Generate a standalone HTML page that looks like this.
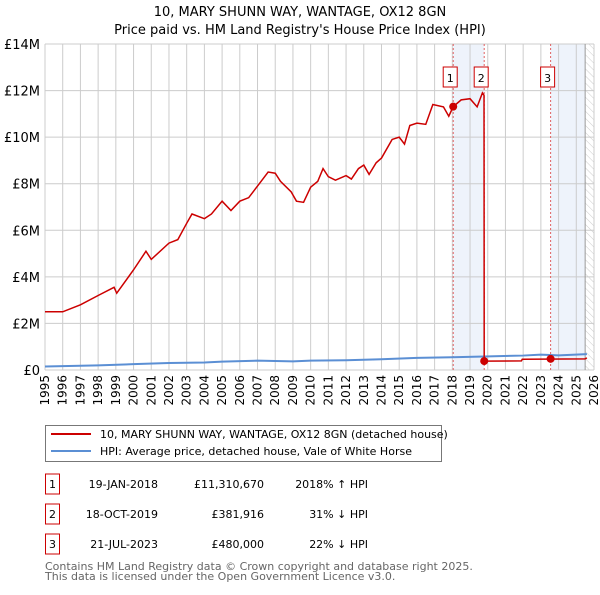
<!DOCTYPE html>
<html><head><meta charset="utf-8"><style>
body{margin:0;background:#fff;font-family:"Liberation Sans","DejaVu Sans",sans-serif;}
svg text{font-family:"DejaVu Sans","Liberation Sans",sans-serif;}
</style></head><body>
<svg id="c" width="600" height="590" xmlns="http://www.w3.org/2000/svg">
<defs><pattern id="hatch" width="5" height="5" patternUnits="userSpaceOnUse" patternTransform="rotate(-45)"><line x1="0" y1="0" x2="0" y2="5" stroke="#ccc" stroke-width="1"/></pattern></defs>
<text x="300" y="16" text-anchor="middle" font-size="13" fill="#000">10, MARY SHUNN WAY, WANTAGE, OX12 8GN</text>
<text x="300" y="34" text-anchor="middle" font-size="13" fill="#000">Price paid vs. HM Land Registry's House Price Index (HPI)</text>
<g id="plot"></g>
<g>
<rect x="45.5" y="425.5" width="396" height="36" fill="#fff" stroke="#777"/>
<line x1="51" y1="434" x2="91" y2="434" stroke="#cc0000" stroke-width="2"/>
<text x="100" y="438" font-size="11">10, MARY SHUNN WAY, WANTAGE, OX12 8GN (detached house)</text>
<line x1="51" y1="451" x2="91" y2="451" stroke="#5b8fd4" stroke-width="2"/>
<text x="100" y="455" font-size="11">HPI: Average price, detached house, Vale of White Horse</text>
</g>
<g id="table" font-size="11"></g>
<text x="45" y="570" font-size="11" fill="#666">Contains HM Land Registry data © Crown copyright and database right 2025.</text>
<text x="45" y="580" font-size="11" fill="#666">This data is licensed under the Open Government Licence v3.0.</text>
</svg>
<script>
const yTicks=[0,2,4,6,8,10,12,14];
const yTickLabels=["£0","£2M","£4M","£6M","£8M","£10M","£12M","£14M"];
const xYears=[1995,1996,1997,1998,1999,2000,2001,2002,2003,2004,2005,2006,2007,2008,2009,2010,2011,2012,2013,2014,2015,2016,2017,2018,2019,2020,2021,2022,2023,2024,2025,2026];
const priceT=[1995,1996,1997,1998,1998.9,1999.05,2000,2000.7,2001,2002,2002.5,2003,2003.3,2004,2004.4,2005,2005.5,2006,2006.5,2007,2007.6,2008,2008.3,2008.9,2009.2,2009.6,2010,2010.4,2010.7,2011,2011.4,2012,2012.3,2012.7,2013,2013.3,2013.7,2014,2014.6,2015,2015.3,2015.6,2016,2016.5,2016.9,2017.5,2017.8,2018.05,2018.5,2019,2019.4,2019.7,2019.79,2019.8,2021.9,2021.95,2025.5,2025.6];
const priceV=[2.5,2.5,2.8,3.2,3.55,3.3,4.3,5.1,4.75,5.45,5.6,6.3,6.7,6.5,6.7,7.25,6.85,7.25,7.4,7.9,8.5,8.45,8.1,7.65,7.25,7.2,7.85,8.1,8.65,8.3,8.15,8.35,8.2,8.65,8.8,8.4,8.9,9.1,9.9,10.0,9.7,10.5,10.6,10.55,11.4,11.3,10.9,11.31,11.6,11.65,11.3,11.9,11.8,0.382,0.39,0.46,0.48,0.52];
const hpiT=[1995,1998,2000,2002,2004,2005,2007,2009,2010,2012,2014,2016,2018,2019.8,2022,2023,2024,2025.6];
const hpiV=[0.15,0.2,0.25,0.3,0.32,0.36,0.4,0.37,0.4,0.42,0.46,0.52,0.55,0.58,0.62,0.66,0.63,0.68];
const saleT=[2018.05,2019.8,2023.55];
const saleV=[11.31,0.382,0.48];
const saleLabels=["1","2","3"];
const rowDates=["19-JAN-2018","18-OCT-2019","21-JUL-2023"];
const rowPrices=["£11,310,670","£381,916","£480,000"];
const rowHpi=["2018% ↑ HPI","31% ↓ HPI","22% ↓ HPI"];
const NS="http://www.w3.org/2000/svg";
const X0=45,X1=594,Y0=370,Y1=44;
const xs=t=>X0+(t-1995)/(2026-1995)*(X1-X0);
const ys=v=>Y0-v/14*(Y0-Y1);
const plot=document.getElementById('plot');
function mk(tag,attrs,parent){const e=document.createElementNS(NS,tag);for(const k in attrs)e.setAttribute(k,attrs[k]);(parent||plot).appendChild(e);return e;}
let s1=mk('rect',{x:xs(2018.05),y:Y1,width:xs(2019.8)-xs(2018.05),height:Y0-Y1,fill:'#eef3fb'});


let s2=mk('rect',{x:xs(2023.55),y:Y1,width:xs(2025.5)-xs(2023.55),height:Y0-Y1,fill:'#eef3fb'});


let hz=mk('rect',{x:xs(2025.5),y:Y1,width:X1-xs(2025.5),height:Y0-Y1,fill:'url(#hatch)'});


xYears.forEach((yr,i)=>{
 let l=mk('line',{x1:xs(yr),x2:xs(yr),y1:Y1,y2:Y0,stroke:'#ccc','stroke-width':1});
 
 
 let t=mk('text',{x:0,y:0,'font-size':12,'text-anchor':'end',transform:`translate(${xs(yr)+4},${Y0+5}) rotate(-90)`});
 t.textContent=yr;
 
 
});
yTicks.forEach((v,i)=>{
 let l=mk('line',{x1:X0,x2:X1,y1:ys(v),y2:ys(v),stroke:'#ccc','stroke-width':1});
 
 
 let t=mk('text',{x:X0-5,y:ys(v)+5,'font-size':13,'text-anchor':'end'});
 t.textContent=yTickLabels[i];
 
 
});
let hl=mk('line',{x1:xs(2025.5),x2:xs(2025.5),y1:Y1,y2:Y0,stroke:'#999','stroke-width':1});


saleT.forEach((t,i)=>{
 let l=mk('line',{x1:xs(t),x2:xs(t),y1:Y1,y2:Y0,stroke:'#e06060','stroke-width':1,'stroke-dasharray':'2,2'});
 
 
});
let hp=mk('polyline',{points:hpiT.map((t,i)=>xs(t)+','+ys(hpiV[i])).join(' '),fill:'none',stroke:'#5b8fd4','stroke-width':2});


let pp=mk('polyline',{points:priceT.map((t,i)=>xs(t)+','+ys(priceV[i])).join(' '),fill:'none',stroke:'#cc0000','stroke-width':1.5});


saleT.forEach((t,i)=>{
 let c=mk('circle',{cx:xs(t),cy:ys(saleV[i]),r:4,fill:'#cc0000'});
 
 
 const cx=xs(t)-3;
 let r=mk('rect',{x:cx-7,y:67,width:14,height:20,fill:'#fff',stroke:'#cc0000'});
 
 
 let tx=mk('text',{x:cx,y:82,'font-size':11,'text-anchor':'middle'});
 tx.textContent=saleLabels[i];
 
 
});
const tb=document.getElementById('table');
saleLabels.forEach((lab,i)=>{
 const y=487+i*30;
 let r=mk('rect',{x:45.5,y:y-13,width:14,height:20,fill:'#fff',stroke:'#cc0000'},tb);
 
 
 let t=mk('text',{x:52.5,y:y+1,'text-anchor':'middle'},tb);t.textContent=lab;
 
 
 let d=mk('text',{x:158,y:y+1,'text-anchor':'end'},tb);d.textContent=rowDates[i];
 
 
 let p=mk('text',{x:264,y:y+1,'text-anchor':'end'},tb);p.textContent=rowPrices[i];
 
 
 let h=mk('text',{x:368,y:y+1,'text-anchor':'end'},tb);h.textContent=rowHpi[i];
 
 
});
</script>
</body></html>
